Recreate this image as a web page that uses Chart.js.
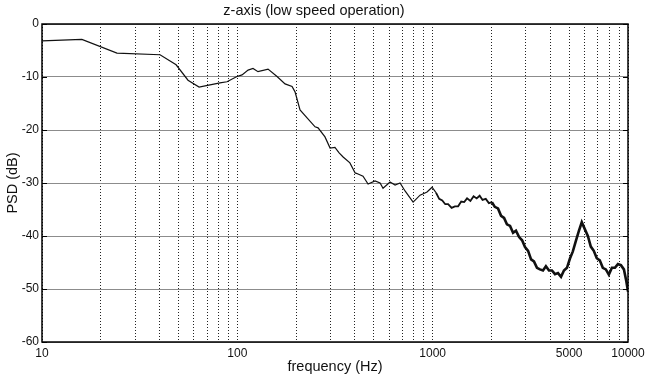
<!DOCTYPE html>
<html>
<head>
<meta charset="utf-8">
<script src="https://cdn.jsdelivr.net/npm/chart.js@4/dist/chart.umd.min.js"></script>
<style>
  html, body { margin: 0; padding: 0; background: #fff; }
</style>
</head>
<body>
<canvas id="psdChart" width="645" height="379"></canvas>
<script>
// frequency (Hz) and PSD (dB)
const freqHz = [
  10, 16, 24.2, 40.2, 48.6, 55.9, 63.7, 72.5, 81.5, 88.5,
  99.6, 105.7, 113.5, 120.3, 127.6, 143.6, 159.7, 175.5, 190.6, 197.4,
  209.4, 227.5, 250, 259, 281, 298.4, 316, 332, 348, 377,
  401, 415, 440, 467, 507, 538, 557, 605, 642, 681,
  722, 794, 862, 936, 993,
  1040, 1080, 1120, 1160, 1200, 1250, 1300, 1350, 1400, 1450,
  1500, 1560, 1620, 1680, 1740, 1800, 1870, 1940, 2010, 2080,
  2160, 2240, 2320, 2400, 2490, 2580, 2670, 2770, 2870, 2970,
  3080, 3190, 3300, 3420, 3540, 3670, 3800, 3940, 4080, 4230,
  4380, 4540, 4700, 4870, 5040, 5220, 5410, 5600, 5800, 6010,
  6230, 6450, 6680, 6920, 7170, 7430, 7700, 7980, 8270, 8570,
  8880, 9200, 9530, 9800, 10000
];
const psdDb = [
  -3.2, -2.9, -5.5, -5.8, -7.7, -10.6, -11.9, -11.5, -11.1, -10.9,
  -9.9, -9.6, -8.7, -8.4, -9.0, -8.5, -9.9, -11.3, -11.8, -12.8,
  -16.2, -17.7, -19.4, -19.6, -21.3, -23.4, -23.3, -24.3, -25.1, -26.2,
  -28.1, -28.3, -28.7, -30.2, -29.6, -30.0, -31.0, -29.8, -30.4, -30.0,
  -31.5, -33.6, -32.3, -31.7, -30.8,
  -31.8, -33.0, -33.3, -34.0, -34.0, -34.7, -34.4, -34.4, -33.5, -33.6,
  -32.9, -33.4, -32.5, -32.9, -32.4, -33.2, -33.0, -33.8, -33.6, -34.5,
  -34.8, -36.2, -36.6, -37.8, -38.1, -39.4, -39.0, -40.2, -40.8, -42.1,
  -42.8, -44.4, -44.8, -46.0, -46.3, -46.5, -45.7, -46.5, -46.5, -47.2,
  -47.0, -47.7, -46.5, -46.0, -44.3, -42.9, -40.9, -39.1, -37.4, -38.7,
  -40.0, -42.0, -42.8, -44.2, -44.6, -46.0, -46.3, -47.3, -46.0, -46.0,
  -45.3, -45.5, -46.3, -48.5, -50.5
];

const xGridValues = [10, 20, 30, 40, 50, 60, 70, 80, 90,
  100, 200, 300, 400, 500, 600, 700, 800, 900,
  1000, 2000, 3000, 4000, 5000, 6000, 7000, 8000, 9000, 10000];
const xTickLabels = [10, 100, 1000, 5000, 10000];
const yTicks = [0, -10, -20, -30, -40, -50, -60];

const fontFamily = '"Liberation Sans", Arial, Helvetica, sans-serif';

// black box round the plot, with short inward ticks on the y sides
const framePlugin = {
  id: 'frame',
  afterDatasetsDraw(chart) {
    const { ctx, chartArea: a, scales } = chart;
    ctx.save();
    ctx.strokeStyle = '#000';
    ctx.lineWidth = 1.5;
    ctx.setLineDash([]);
    ctx.strokeRect(a.left, a.top, a.right - a.left, a.bottom - a.top);
    ctx.lineWidth = 1;
    yTicks.forEach(v => {
      const y = Math.round(scales.y.getPixelForValue(v)) + 0.5;
      ctx.beginPath();
      ctx.moveTo(a.left, y); ctx.lineTo(a.left + 5, y);
      ctx.moveTo(a.right, y); ctx.lineTo(a.right - 5, y);
      ctx.stroke();
    });
    ctx.restore();
  }
};

new Chart(document.getElementById('psdChart').getContext('2d'), {
  type: 'scatter',
  data: {
    datasets: [{
      data: freqHz.map((f, i) => ({ x: f, y: psdDb[i] })),
      showLine: true,
      borderColor: '#111',
      borderWidth: 1.2,
      pointRadius: 0,
      tension: 0,
      segment: {
        borderWidth: ctx => ctx.p0.parsed.x >= 2000 ? 2.6 : (ctx.p0.parsed.x >= 1040 ? 1.8 : 1.2)
      }
    }]
  },
  options: {
    responsive: false,
    animation: false,
    devicePixelRatio: 1,
    layout: { padding: { top: 0, right: 17, bottom: 0, left: 0 } },
    plugins: {
      legend: { display: false },
      tooltip: { enabled: false },
      title: {
        display: true,
        text: 'z-axis (low speed operation)',
        color: '#111',
        font: { family: fontFamily, size: 14.5, weight: 'normal' },
        padding: { top: 2, bottom: 4.6 }
      }
    },
    scales: {
      x: {
        type: 'logarithmic',
        min: 10,
        max: 10000,
        afterBuildTicks: scale => {
          scale.ticks = xGridValues.map(v => ({ value: v }));
        },
        afterFit: scale => {
          scale.height = 37;
          scale.paddingLeft = 0;
          scale.paddingRight = 0;
        },
        grid: { color: '#222', lineWidth: 1, drawTicks: false },
        border: { display: false, dash: [1, 2] },
        ticks: {
          autoSkip: false,
          maxRotation: 0,
          padding: 4,
          color: '#111',
          font: { family: fontFamily, size: 12 },
          callback: v => xTickLabels.includes(v) ? String(v) : ''
        },
        title: {
          display: true,
          text: 'frequency (Hz)',
          color: '#111',
          font: { family: fontFamily, size: 14.5 },
          padding: { top: 0, bottom: 3 }
        }
      },
      y: {
        min: -60,
        max: 0,
        afterBuildTicks: scale => {
          scale.ticks = yTicks.map(v => ({ value: v }));
        },
        afterFit: scale => {
          scale.width = 42;
          scale.paddingTop = 0;
          scale.paddingBottom = 0;
        },
        grid: { color: '#8c8c8c', lineWidth: 1, drawTicks: false },
        border: { display: false },
        ticks: {
          padding: 3,
          color: '#111',
          font: { family: fontFamily, size: 12 }
        },
        title: {
          display: true,
          text: 'PSD (dB)',
          color: '#111',
          font: { family: fontFamily, size: 14.5 },
          padding: { top: 4, bottom: 0 }
        }
      }
    }
  },
  plugins: [framePlugin]
});
</script>
</body>
</html>
